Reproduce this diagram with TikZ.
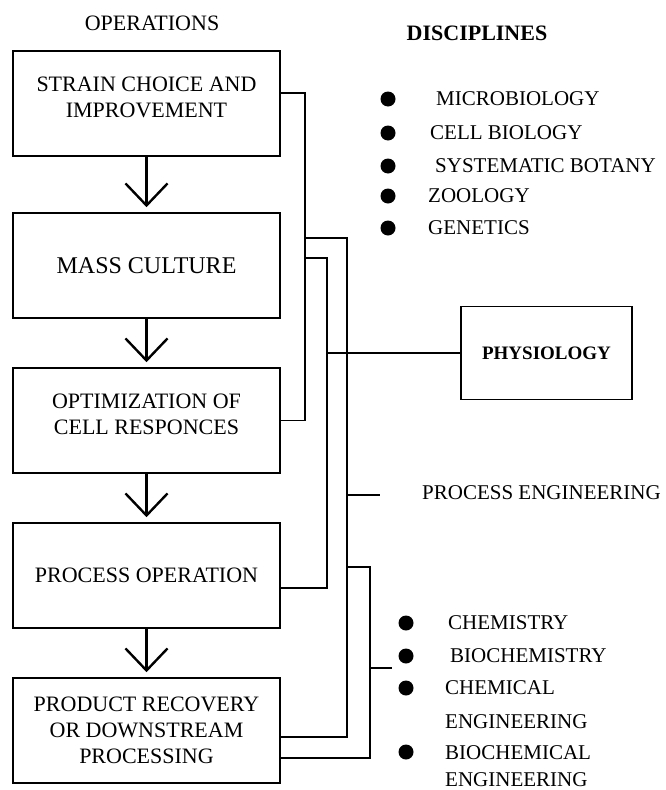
\documentclass[tikz,border=0pt]{standalone}
\usepackage{fontspec}
\setmainfont{Liberation Serif}
\usepackage{tikz}
\usetikzlibrary{arrows.meta}
\newcommand\opfont{\fontsize{22}{26}\selectfont}
\newcommand\discfont{\fontsize{21}{25}\selectfont}
\tikzset{
  opbox/.style={draw, line width=1.6pt, minimum width=267pt, minimum height=105pt,
    align=center, font=\opfont, inner sep=0pt},
  disc/.style={anchor=west, font=\discfont, inner sep=0pt, align=left},
  dot/.style={circle, fill, minimum size=15pt, inner sep=0pt},
  link/.style={line width=1.6pt},
  flowarrow/.style={line width=2.4pt, shorten >=5pt,
    -{Straight Barb[length=22pt,width=42pt,line width=2.4pt]}}
}

\begin{document}
\begin{tikzpicture}[x=1pt,y=-1pt]
\useasboundingbox (0,0) rectangle (665,790);

\node (ophead) at (152,23) [font=\fontsize{22}{26}\selectfont] {OPERATIONS};
\node (dischead) at (477,33) [font=\fontsize{22}{26}\selectfont\bfseries] {DISCIPLINES};

% operations column
\node[opbox] (box1) at (146.5,103.5) {STRAIN CHOICE AND\\IMPROVEMENT\\[-13pt]\mbox{}};
\node[opbox, font=\fontsize{24}{28}\selectfont] (box2) at (146.5,265.5) {MASS CULTURE};
\node[opbox] (box3) at (146.5,420.5) {OPTIMIZATION OF\\CELL RESPONCES\\[-13pt]\mbox{}};
\node[opbox] (box4) at (146.5,575.5) {PROCESS OPERATION};
\node[opbox] (box5) at (146.5,730.5) {PRODUCT RECOVERY\\OR DOWNSTREAM\\PROCESSING};

\foreach \a/\b in {box1/box2,box2/box3,box3/box4,box4/box5}
  \draw[flowarrow] (\a) -- (\b);

% disciplines
\foreach \y/\t/\dx in {99/MICROBIOLOGY/8,133/CELL BIOLOGY/2,166/SYSTEMATIC BOTANY/7,196/ZOOLOGY/0,228/GENETICS/0}
{
  \node[dot] (bt\y) at (388,\y) {};
  \node[disc] (tt\y) at (428+\dx,\y) {\t};
}

\node[draw, line width=1.6pt, minimum width=171pt, minimum height=93pt,
  font=\fontsize{19}{23}\selectfont\bfseries] (physio) at (546.5,353) {PHYSIOLOGY};
\node[disc] (proceng) at (422,493) {PROCESS ENGINEERING};

\foreach \y in {623,656,688,752}
  \node[dot] (bb\y) at (406,\y) {};
\node[disc] (chem) at (448,623) {CHEMISTRY};
\node[disc] (biochem) at (450,656) {BIOCHEMISTRY};
\node[disc, font=\fontsize{21}{34}\selectfont] (chemeng) at (445,705) {CHEMICAL\\ENGINEERING};
\node[disc, font=\fontsize{21}{27}\selectfont] (biochemeng) at (445,766.5) {BIOCHEMICAL\\ENGINEERING};

% buses
\coordinate (busA) at (305,200);
\coordinate (busB) at (327,400);
\coordinate (busC) at (347,400);
\coordinate (busD) at (370,700);
\coordinate (stubPE) at (380,495);
\coordinate (stubCh) at (392,668);

\draw[link] ([yshift=10.5pt]box1.east) -| (busA) |- (box3.east);
\draw[link] (busA |- 0,258) -| (busB) |- ([yshift=-12.5pt]box4.east);
\draw[link] (busA |- 0,238) -| (busC) |- ([yshift=-6.5pt]box5.east);
\draw[link] (busB |- physio.west) -- (physio.west);
\draw[link] (busC |- stubPE) -- (stubPE);
\draw[link] (busC |- 0,567) -| (busD) |- ([yshift=-27.5pt]box5.east);
\draw[link] (busD |- stubCh) -- (stubCh);
\end{tikzpicture}
\end{document}
